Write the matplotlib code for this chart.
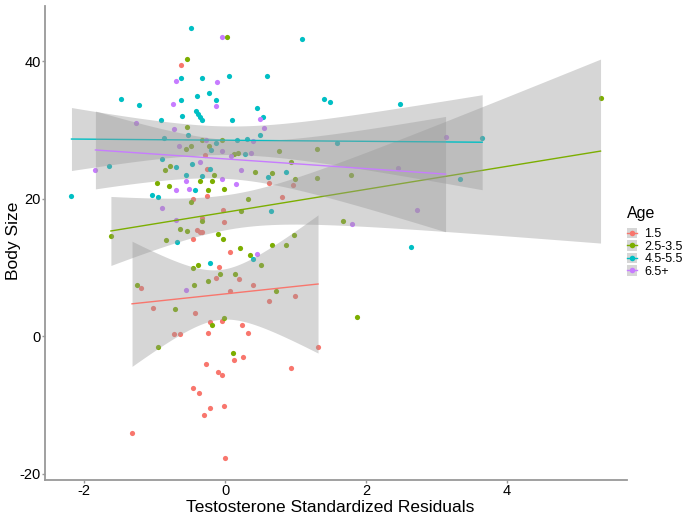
import numpy as np
import matplotlib
matplotlib.use("Agg")
import matplotlib.pyplot as plt
from matplotlib.patches import Patch
from matplotlib.lines import Line2D

plt.rcParams["font.family"] = ["Liberation Sans", "DejaVu Sans"]
plt.rcParams["axes.unicode_minus"] = False

# Age 1.5
x_a = [-0.62, -0.45, -0.40, -0.36, -0.33, -0.45, -0.29, -0.26, 0.63, 0.97, -0.26, 0.81,
       -0.03, -0.33, -0.01, 0.07, -0.08, -0.13, 0.20, 0.40, 0.07, 1.00, 0.62, -0.42,
       -0.21, -0.04, 0.24, -0.24, 0.33, 1.32, 0.26, 0.13, -1.19, -1.02, -0.73, -0.64,
       -0.27, 0.94, -0.10, -0.04, -0.45, -0.37, -0.02, -0.21, -0.30, -1.32, 0.00]
y_a = [39.5, 20.0, 15.4, 15.1, 15.2, 14.1, 26.4, 24.3, 22.3, 22.0, 20.4, 20.2,
       18.3, 17.2, 16.6, 12.3, 10.1, 8.4, 8.3, 7.4, 6.5, 5.8, 5.1, 3.4,
       2.0, 2.2, 1.6, 0.4, 0.4, -1.6, -3.1, -3.5, 7.0, 4.1, 0.25, 0.25,
       -4.1, -4.7, -5.2, -5.7, -7.6, -8.3, -10.1, -10.4, -11.5, -14.1, -17.8]

# Age 2.5-3.5
x_b = [-0.54, 0.03, -0.54, -0.55, -0.49, -0.78, -0.85, -0.96, -0.79, -0.48, -0.64, -0.54,
       -1.62, -0.84, -0.33, -0.04, -0.23, 0.13, 0.18, 0.76, 1.30, 0.93, 0.42, 0.67,
       -0.16, -0.35, -0.19, 0.99, 1.30, -0.24, -0.01, 0.33, 0.23, -0.33, -0.10, -0.03,
       0.98, 0.67, 0.87, 0.21, 0.35, 0.51, -0.38, -0.07, 0.14, -0.24, -0.44, 0.73,
       -0.01, -0.19, 0.12, -0.46, -1.25, -0.71, -0.95, 1.67, 1.88, 1.79, 5.33]
y_b = [40.3, 43.5, 30.5, 27.2, 27.6, 24.7, 24.2, 22.3, 21.9, 19.5, 15.6, 15.3,
       14.5, 14.0, 28.6, 28.5, 27.6, 26.5, 26.7, 26.9, 27.2, 25.4, 23.9, 23.7,
       23.4, 22.6, 22.5, 22.9, 23.0, 21.3, 21.4, 20.0, 18.2, 16.7, 14.9, 14.1,
       14.7, 13.3, 13.2, 12.8, 11.8, 10.4, 10.4, 9.0, 9.1, 8.0, 7.5, 6.6,
       2.7, 1.6, -2.4, 9.9, 7.4, 3.9, -1.6, 16.7, 2.8, 23.4, 34.7]

# Age 4.5-5.5
x_c = [-0.48, -0.62, -0.40, -1.48, -0.63, -1.22, -0.41, -0.39, -0.36, -0.32, -0.61, -0.91,
       1.09, -0.32, 0.05, 0.59, -0.23, -0.13, 1.40, 1.49, 0.46, 0.10, 0.54, -0.86,
       -0.53, -0.90, -0.47, -1.64, -0.69, -0.55, -0.42, -2.18, -1.04, -0.95, -0.68, 0.49,
       -0.13, 0.17, 0.31, 1.59, -0.20, 0.28, -0.21, 0.86, -0.33, 0.61, 0.65, 0.40,
       -0.21, 2.48, 3.65, 3.33, 2.64]
y_c = [44.9, 37.5, 34.9, 34.5, 34.4, 33.6, 32.8, 32.3, 31.9, 31.5, 32.0, 31.4,
       43.3, 37.5, 37.8, 37.9, 35.4, 34.4, 34.5, 34.1, 33.2, 31.4, 31.9, 28.8,
       29.3, 25.8, 25.1, 24.7, 24.6, 23.5, 21.2, 20.4, 20.5, 20.3, 13.7, 29.3,
       28.1, 28.5, 28.7, 28.1, 27.1, 26.5, 24.3, 23.9, 23.3, 23.1, 18.2, 11.2,
       10.7, 33.8, 28.8, 22.9, 13.0]

# Age 6.5+
x_d = [-0.69, -0.74, -1.26, -0.72, -0.05, -0.11, -0.13, 0.49, 0.56, -0.66, -0.36, -1.84,
       -0.56, -0.69, -0.51, -0.90, -0.69, -0.27, 0.39, -0.05, 0.09, 0.37, 0.23, -0.05,
       0.15, 0.46, -0.55, 3.13, 2.45, 2.72, 1.80]
y_d = [37.1, 33.8, 31.0, 30.2, 43.5, 37.0, 33.5, 31.6, 30.3, 27.6, 25.3, 24.2,
       22.6, 21.2, 21.4, 18.6, 16.9, 28.5, 28.4, 26.9, 26.2, 26.6, 24.1, 22.8,
       22.1, 11.9, 6.7, 29.0, 24.4, 18.3, 16.3]

labels = ["1.5", "2.5-3.5", "4.5-5.5", "6.5+"]
colors = ["#F8766D", "#7CAE00", "#00BFC4", "#C77CFF"]
groups = [(x_a, y_a), (x_b, y_b), (x_c, y_c), (x_d, y_d)]


def t975(df):
    try:
        from scipy import stats
        return stats.t.ppf(0.975, df)
    except ImportError:
        z = 1.959964
        return (z + (z**3 + z) / (4 * df)
                + (5 * z**5 + 16 * z**3 + 3 * z) / (96 * df**2))


fig = plt.figure(figsize=(6.87, 5.21), dpi=100)
ax = fig.add_axes([45 / 687, 41 / 521, 582 / 687, 474 / 521])

for (xs, ys), c in zip(groups, colors):
    ax.scatter(xs, ys, s=14, color=c, linewidths=0, zorder=2)

# lm smooth with 95% band, drawn group by group like ggplot
for i, ((xs, ys), c) in enumerate(zip(groups, colors)):
    x = np.array(xs)
    y = np.array(ys)
    n = len(x)
    b, a = np.polyfit(x, y, 1)
    xg = np.linspace(x.min(), x.max(), 80)
    yg = a + b * xg
    resid = y - (a + b * x)
    s = np.sqrt(np.sum(resid**2) / (n - 2))
    sxx = np.sum((x - x.mean())**2)
    se = s * np.sqrt(1 / n + (xg - x.mean())**2 / sxx)
    t = t975(n - 2)
    ax.fill_between(xg, yg - t * se, yg + t * se, color="#999999", alpha=0.4,
                    linewidth=0, zorder=3 + 2 * i)
    ax.plot(xg, yg, color=c, lw=1, zorder=4 + 2 * i)

allx = np.concatenate([x_a, x_b, x_c, x_d])
ally = np.concatenate([y_a, y_b, y_c, y_d])
rx = allx.max() - allx.min()
ry = ally.max() - ally.min()
ax.set_xlim(allx.min() - 0.05 * rx, allx.max() + 0.05 * rx)
ax.set_ylim(ally.min() - 0.05 * ry, ally.max() + 0.05 * ry)

ax.set_xticks([-2, 0, 2, 4])
ax.set_yticks([-20, 0, 20, 40])
for side in ["top", "right"]:
    ax.spines[side].set_visible(False)
for side in ["left", "bottom"]:
    ax.spines[side].set_color("#999999")
    ax.spines[side].set_linewidth(1.3)
ax.tick_params(colors="#999999", labelcolor="black", labelsize=10.5, length=2.5, width=1, pad=0.5)

fig.text(330 / 687, 1 - 508 / 521, "Testosterone Standardized Residuals",
         fontsize=12.5, ha="center", va="center")
fig.text(14 / 687, 1 - 241 / 521, "Body Size", fontsize=12.5, rotation=90,
         ha="center", va="center")

handles = []
for c in colors:
    bg = Patch(facecolor="#D6D6D6", edgecolor="none")
    ln = Line2D([], [], color=c, lw=1, marker="o", markersize=4, markeredgewidth=0)
    handles.append((bg, ln))
leg = fig.legend(handles, labels, title="Age", loc="upper left",
                 bbox_to_anchor=(627 / 687, 1 - 206 / 521), frameon=False,
                 fontsize=9, title_fontsize=11.5, handlelength=0.8, handleheight=0.9,
                 handletextpad=0.6, labelspacing=0.0, borderpad=0, borderaxespad=0)
leg._legend_box.align = "left"
leg._legend_box.sep = 5

fig.savefig("out.png", dpi=100)
